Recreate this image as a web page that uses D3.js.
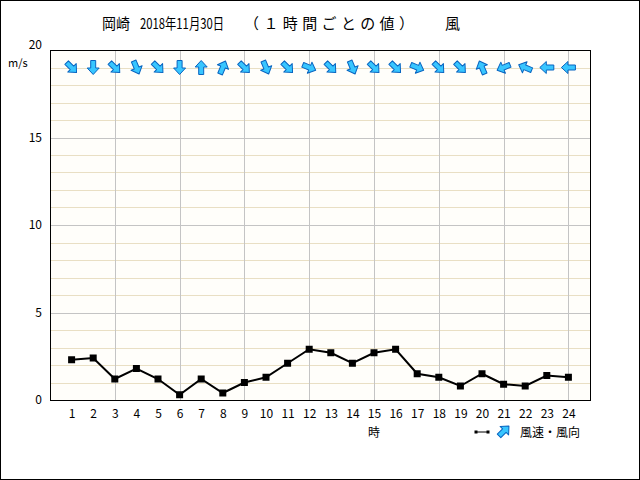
<!DOCTYPE html>
<html>
<head>
    <meta charset="utf-8">
    <title>風</title>
    <script src="https://d3js.org/d3.v7.min.js"></script>
    <style>
        body { margin: 0; }
        text { font-family: "Noto Sans CJK JP", "DejaVu Sans", sans-serif; fill: #000; }
    </style>
</head>
<body>
    <svg width="640" height="480"></svg>
    <script>
        // 1時間ごとの値
        const hours = d3.range(1, 25)
        const speeds = [2.3, 2.4, 1.2, 1.8, 1.2, 0.3, 1.2, 0.4, 1.0, 1.3, 2.1, 2.9,
                        2.7, 2.1, 2.7, 2.9, 1.5, 1.3, 0.8, 1.5, 0.9, 0.8, 1.4, 1.3]
        // arrow heading (degrees, 0 = pointing up, clockwise)
        const headings = [135, 180, 135, 157.5, 135, 180, 0, 22.5, 135, 157.5, 135, 112.5,
                          135, 157.5, 135, 135, 112.5, 135, 135, 337.5, 247.5, 292.5, 270, 270]
        const yTicks = [0, 5, 10, 15, 20]
        const titleParts = ["岡崎", "2018年11月30日", "（１時間ごとの値）", "風"]
        const arrowRow = 19

        const svg = d3.select("svg")
        const margin = { top: 50, left: 50, right: 50, bottom: 80 }
        const innerWidth = 640 - margin.left - margin.right
        const innerHeight = 480 - margin.top - margin.bottom

        svg.append("rect")
            .attr("x", 0.5).attr("y", 0.5)
            .attr("width", 639).attr("height", 479)
            .attr("fill", "#fff").attr("stroke", "#000")

        const x = d3.scaleLinear().domain([0, 25]).range([0, innerWidth])
        const y = d3.scaleLinear().domain([0, 20]).range([innerHeight, 0])

        const g = svg.append("g")
            .attr("transform", `translate(${margin.left},${margin.top})`)

        g.append("rect")
            .attr("width", innerWidth).attr("height", innerHeight)
            .attr("fill", "#fffefa")

        // minor grid
        g.selectAll(".minor")
            .data(d3.range(1, 20).filter(v => v % 5 != 0))
            .join("line")
            .attr("x1", 0).attr("x2", innerWidth)
            .attr("y1", d => Math.round(y(d)) + 0.5).attr("y2", d => Math.round(y(d)) + 0.5)
            .attr("stroke", "#e9dfc4")

        g.selectAll(".major")
            .data([5, 10, 15])
            .join("line")
            .attr("x1", 0).attr("x2", innerWidth)
            .attr("y1", d => Math.round(y(d)) + 0.5).attr("y2", d => Math.round(y(d)) + 0.5)
            .attr("stroke", "#c4c4c4")

        g.selectAll(".vgrid")
            .data(hours.filter(h => h % 3 == 0))
            .join("line")
            .attr("x1", d => Math.round(x(d)) + 0.5).attr("x2", d => Math.round(x(d)) + 0.5)
            .attr("y1", 0).attr("y2", innerHeight)
            .attr("stroke", "#c4c4c4")

        g.append("rect")
            .attr("x", 0.5).attr("y", 0.5)
            .attr("width", innerWidth).attr("height", innerHeight)
            .attr("fill", "none").attr("stroke", "#000")

        // axes (labels only)
        const yAxis = d3.axisLeft(y).tickValues(yTicks).tickSize(0).tickPadding(8)
        const ya = g.append("g").call(yAxis)
        ya.select(".domain").remove()
        ya.selectAll("text").attr("font-size", 12).attr("font-family", "Noto Sans CJK JP")
            .attr("dy", d => d == 20 ? "-0.1em" : "0.32em")

        const xAxis = d3.axisBottom(x).tickValues(hours).tickSize(0).tickPadding(9)
        const xa = g.append("g").attr("transform", `translate(0,${innerHeight})`).call(xAxis)
        xa.select(".domain").remove()
        xa.selectAll("text").attr("font-size", 12).attr("font-family", "Noto Sans CJK JP")

        // speed line
        const data = hours.map((h, i) => ({ h: h, v: speeds[i], dir: headings[i] }))
        const line = d3.line().x(d => x(d.h)).y(d => y(d.v))
        g.append("path")
            .datum(data)
            .attr("d", line)
            .attr("fill", "none").attr("stroke", "#000").attr("stroke-width", 2)

        g.selectAll(".pt")
            .data(data)
            .join("rect")
            .attr("x", d => x(d.h) - 3.5).attr("y", d => y(d.v) - 3.5)
            .attr("width", 7).attr("height", 7)
            .attr("fill", "#000")

        // wind direction arrows
        const arrowPath = "M0,-7 L6,-0.5 L2.5,-0.5 L2.5,7 L-2.5,7 L-2.5,-0.5 L-6,-0.5 Z"
        g.selectAll(".arrow")
            .data(data)
            .join("path")
            .attr("d", arrowPath)
            .attr("transform", d => `translate(${x(d.h)},${y(arrowRow)}) rotate(${d.dir})`)
            .attr("fill", "#38c6ff").attr("stroke", "#0864c0").attr("stroke-width", 1)
            .attr("stroke-linejoin", "round")

        // title, set in pieces to match the wide spacing
        const titleX = [102, 140, 244, 445]
        const titleW = [28, 84, 170, 15]
        const titleFit = ["spacingAndGlyphs", "spacingAndGlyphs", "spacing", "spacing"]
        svg.selectAll(".title")
            .data(titleParts)
            .join("text")
            .attr("x", (d, i) => titleX[i]).attr("y", 29)
            .attr("font-size", 15)
            .attr("textLength", (d, i) => titleW[i])
            .attr("lengthAdjust", (d, i) => titleFit[i])
            .text(d => d)

        svg.append("text")
            .attr("x", 8).attr("y", 67)
            .attr("font-size", 11)
            .text("m/s")

        svg.append("text")
            .attr("x", x(15) + margin.left).attr("y", 437)
            .attr("text-anchor", "middle")
            .attr("font-size", 12)
            .text("時")

        // legend
        const lg = svg.append("g").attr("transform", "translate(476,432)")
        lg.append("line").attr("x1", 0).attr("x2", 12).attr("y1", 0).attr("y2", 0)
            .attr("stroke", "#000").attr("stroke-width", 1)
        lg.selectAll("rect").data([0, 12]).join("rect")
            .attr("x", d => d - 1.5).attr("y", -1.5).attr("width", 3).attr("height", 3)
            .attr("fill", "#000")
        lg.append("path")
            .attr("d", arrowPath)
            .attr("transform", "translate(28,-1) rotate(45)")
            .attr("fill", "#38c6ff").attr("stroke", "#0864c0").attr("stroke-linejoin", "round")
        lg.append("text")
            .attr("x", 44).attr("y", 5)
            .attr("font-size", 12)
            .text("風速・風向")
    </script>
</body>
</html>
